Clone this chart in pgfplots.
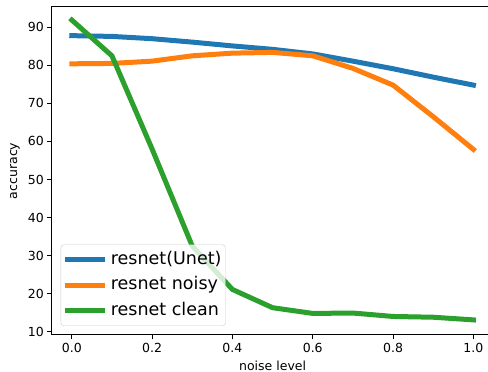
\documentclass[border=0pt]{standalone}
\usepackage{pgfplots}
\pgfplotsset{compat=1.18}
\usepackage{fontspec}
\setmainfont{DejaVu Sans}
\definecolor{tabblue}{HTML}{1F77B4}
\definecolor{taborange}{HTML}{FF7F0E}
\definecolor{tabgreen}{HTML}{2CA02C}
\begin{document}
\begin{tikzpicture}
\begin{axis}[
  name=ax,
  scale only axis,
  width=441.8pt, height=328.3pt,
  xmin=-0.05, xmax=1.05, ymin=9.13, ymax=95.41,
  xtick={0,0.2,0.4,0.6,0.8,1},
  ytick={10,20,30,40,50,60,70,80,90},
  xticklabel style={/pgf/number format/.cd, fixed, fixed zerofill, precision=1},
  /pgf/number format/assume math mode=true,
  tick pos=left, tick align=outside,
  major tick length=4.4pt,
  every tick/.style={black, line width=1pt},
  axis line style={line width=1pt},
  ticklabel style={font=\fontsize{12.5}{14}\selectfont},
  label style={font=\fontsize{12.5}{14}\selectfont},
  xlabel={noise level}, ylabel={accuracy},
  xlabel style={at={(axis description cs:0.5,-0.0935)}, anchor=center},
  ylabel style={at={(axis description cs:-0.0831,0.5)}, anchor=center},
  legend cell align=left,
  legend image code/.code={\draw[#1, line cap=rect] (0pt,0pt) -- (35pt,0pt);},
  legend style={at={(axis description cs:0,0)}, anchor=south west, xshift=9pt, yshift=9pt,
    draw=black!20, rounded corners=3pt, fill=white, fill opacity=0.8, text opacity=1,
    font=\fontsize{17.5}{20}\selectfont, inner xsep=4pt, inner ysep=6.5pt,
    row sep=8.5pt, column sep=6pt,
    nodes={inner sep=0pt, text height=13pt, text depth=4pt}},
  every axis plot/.append style={line width=5pt, line cap=rect, line join=round},
]
\addplot[tabblue] coordinates {(0,87.8) (0.1,87.6) (0.2,87.0) (0.3,86.1) (0.4,85.1) (0.5,84.2) (0.6,83.0) (0.7,81.1) (0.8,79.1) (0.9,76.9) (1.0,74.8)};
\addlegendentry{resnet(Unet)}
\addplot[taborange] coordinates {(0,80.4) (0.1,80.5) (0.2,81.1) (0.3,82.5) (0.4,83.2) (0.5,83.4) (0.6,82.5) (0.7,79.2) (0.8,74.8) (0.9,66.5) (1.0,57.9)};
\addlegendentry{resnet noisy}
\addplot[tabgreen] coordinates {(0,91.9) (0.1,82.5) (0.2,58.0) (0.3,32.5) (0.4,21.1) (0.5,16.3) (0.6,14.8) (0.7,14.9) (0.8,14.0) (0.9,13.8) (1.0,13.1)};
\addlegendentry{resnet clean}
\end{axis}
\pgfresetboundingbox
\useasboundingbox ([shift={(-51.7pt,-37pt)}]ax.south west) rectangle ([shift={(436.3pt,335pt)}]ax.south west);
\end{tikzpicture}
\end{document}
